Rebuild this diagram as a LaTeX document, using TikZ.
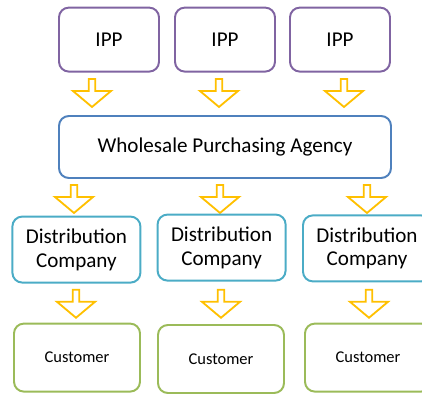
\documentclass[tikz,border=0pt]{standalone}
\usepackage{fontspec}
\setmainfont{Carlito}
\usepackage{tikz}
\usetikzlibrary{shapes.arrows, positioning}

\definecolor{ippline}{HTML}{8064A2}
\definecolor{agencyline}{HTML}{4F81BD}
\definecolor{distline}{HTML}{4BACC6}
\definecolor{custline}{HTML}{9BBB59}
\definecolor{flowline}{HTML}{FFC000}

\begin{document}
\begin{tikzpicture}[
  box/.style={
    rectangle, rounded corners=7pt, line width=1.4pt,
    fill=white, align=center, text=black,
    font=\fontsize{15}{17}\selectfont, inner sep=0pt
  },
  ipp/.style={box, draw=ippline, minimum width=2.5cm, minimum height=1.6cm},
  agency/.style={box, draw=agencyline, minimum width=8.3cm, minimum height=1.55cm},
  dist/.style={box, draw=distline, minimum width=3.2cm, minimum height=1.65cm},
  cust/.style={box, draw=custline, minimum width=3.15cm, minimum height=1.7cm,
    font=\fontsize{11.7}{14}\selectfont},
  flow/.style={
    single arrow, shape border rotate=270, draw=flowline, fill=white,
    line width=1.3pt, inner sep=0pt, minimum width=0.95cm,
    minimum height=0.7cm, single arrow head extend=0.11cm,
    single arrow tip angle=100
  }
]
\useasboundingbox (0,0) rectangle (10.55,9.85);

% generators
\node[ipp] (ipp1) at (2.725,8.86) {IPP};
\node[ipp] (ipp2) at (5.625,8.86) {IPP};
\node[ipp] (ipp3) at (8.5,8.86) {IPP};

\node[flow] (f1) at (2.3,7.56) {};
\node[flow] (f2) at (5.475,7.56) {};
\node[flow] (f3) at (8.6,7.56) {};

% single buyer
\node[agency] (wpa) at (5.625,6.175) {Wholesale Purchasing Agency};

\node[flow] (g1) at (1.85,4.91) {};
\node[flow] (g2) at (5.5,4.91) {};
\node[flow] (g3) at (9.175,4.91) {};

% distribution
\node[dist] (dc1) at (1.91,3.61) {Distribution\\Company};
\node[dist] (dc2) at (5.54,3.66) {Distribution\\Company};
\node[dist] (dc3) at (9.175,3.64) {Distribution\\Company};

\node[flow] (h1) at (1.9,2.29) {};
\node[flow] (h2) at (5.525,2.29) {};
\node[flow] (h3) at (9.225,2.29) {};

% end users
\node[cust] (c1) at (1.925,0.91) {Customer};
\node[cust] (c2) at (5.525,0.875) {Customer};
\node[cust] (c3) at (9.2,0.91) {Customer};
\end{tikzpicture}
\end{document}
